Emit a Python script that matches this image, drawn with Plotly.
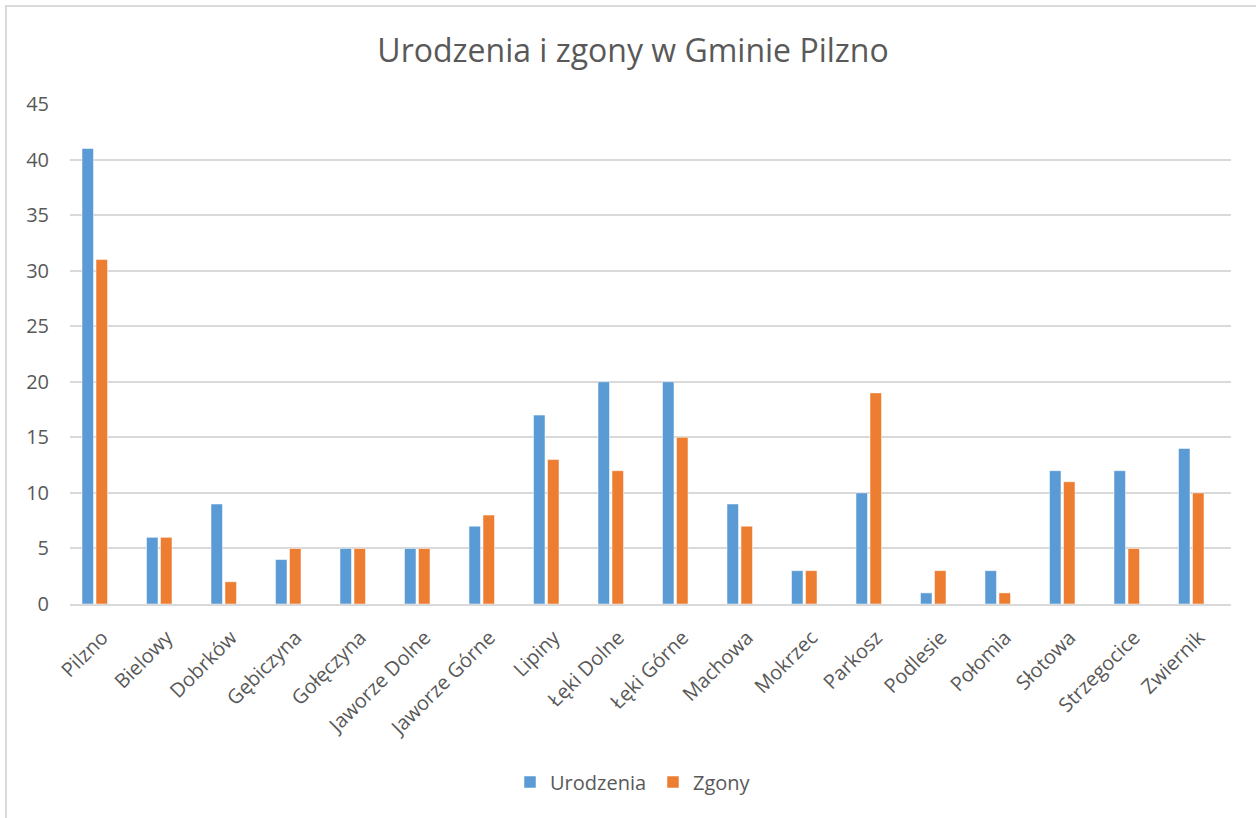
import plotly.graph_objects as go

categories = ["Pilzno", "Bielowy", "Dobrków", "Gębiczyna", "Gołęczyna", "Jaworze Dolne",
              "Jaworze Górne", "Lipiny", "Łęki Dolne", "Łęki Górne", "Machowa", "Mokrzec",
              "Parkosz", "Podlesie", "Połomia", "Słotowa", "Strzegocice", "Zwiernik"]
urodzenia = [41, 6, 9, 4, 5, 5, 7, 17, 20, 20, 9, 3, 10, 1, 3, 12, 12, 14]
zgony = [31, 6, 2, 5, 5, 5, 8, 13, 12, 15, 7, 3, 19, 3, 1, 11, 5, 10]
y_ticks = [0, 5, 10, 15, 20, 25, 30, 35, 40, 45]

W, H = 1256, 818
L, R, T, B = 70, 25, 104, 214
pw, ph = W - L - R, H - T - B
cat_px = pw / len(categories)

bar_w = 11.5 / cat_px
fig = go.Figure()
fig.add_trace(go.Bar(name="Urodzenia", x=categories, y=urodzenia,
                     width=bar_w, offset=-20.25 / cat_px,
                     marker=dict(color="#5B9BD5", line=dict(color="white", width=0.5))))
fig.add_trace(go.Bar(name="Zgony", x=categories, y=zgony,
                     width=bar_w, offset=-6.25 / cat_px,
                     marker=dict(color="#ED7D31", line=dict(color="white", width=0.5))))

font_family = "Open Sans, DejaVu Sans, sans-serif"
fig.update_layout(
    width=W, height=H,
    margin=dict(l=L, r=R, t=T, b=B, pad=0),
    paper_bgcolor="white", plot_bgcolor="white",
    barmode="overlay",
    title=dict(text="Urodzenia i zgony w Gminie Pilzno", x=633 / W, xanchor="center",
               xref="container",
               y=1 - 51 / H, yanchor="middle",
               font=dict(family=font_family, size=32, color="#595959")),
    font=dict(family=font_family, color="#595959"),
    legend=dict(orientation="h", x=(510 - L) / pw, xanchor="left",
                y=(T + ph - 782) / ph, yanchor="middle",
                font=dict(size=20, color="#595959"), itemwidth=30,
                entrywidth=98,
                bgcolor="rgba(0,0,0,0)"),
    showlegend=True,
)
fig.update_xaxes(tickangle=-45, tickfont=dict(size=20, color="#595959"),
                 showline=True, linecolor="#d9d9d9", linewidth=2,
                 showgrid=False, ticks="", fixedrange=True, ticklabelstandoff=12)
fig.update_yaxes(range=[0, 45], tickvals=y_ticks, ticktext=[str(v) for v in y_ticks],
                 tickfont=dict(size=20, color="#595959"),
                 showgrid=True, gridcolor="#d9d9d9", gridwidth=1.5,
                 zeroline=False, showline=False, ticks="", ticklabelstandoff=20)

# chart border (outer frame)
fig.add_shape(type="rect", xref="paper", yref="paper",
              x0=(6 - L) / pw, x1=(W + 20 - L) / pw,
              y0=(T + ph - (H + 20)) / ph, y1=(T + ph - 6) / ph,
              line=dict(color="#d9d9d9", width=2), fillcolor="rgba(0,0,0,0)", layer="below")

fig.write_html("out.html", config={"displayModeBar": False},
               post_script="document.body.style.margin='0';document.body.style.overflow='hidden';")
